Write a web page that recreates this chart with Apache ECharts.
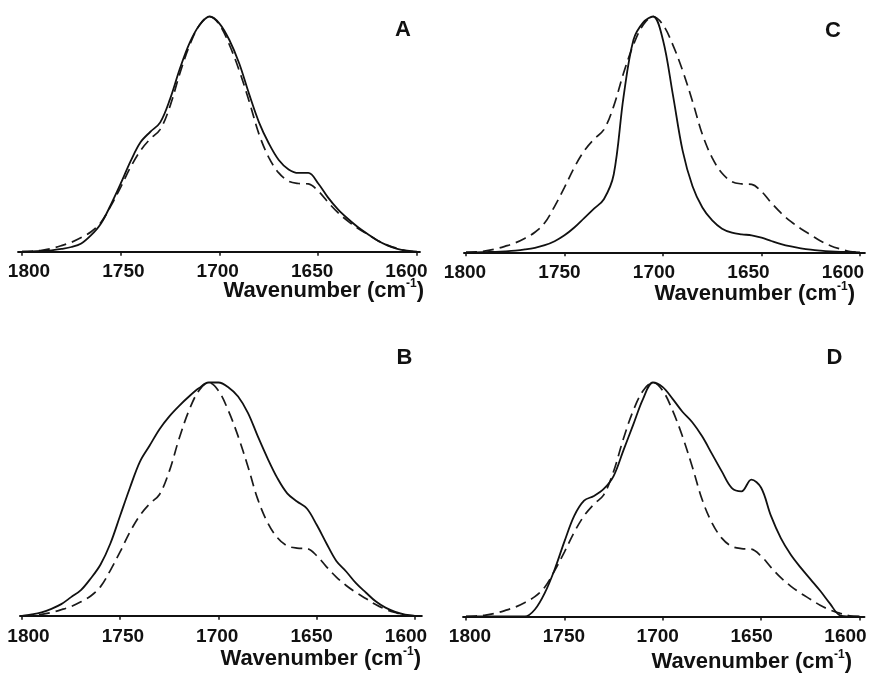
<!DOCTYPE html>
<html><head><meta charset="utf-8">
<script src="https://cdn.jsdelivr.net/npm/echarts@6/dist/echarts.min.js"></script>
<style>html,body{margin:0;padding:0;background:#fff}#c{width:870px;height:676px}</style>
</head><body><div id="c"></div>
<script>
// ---- data ----
const wavenumbers = [1800,1795,1790,1785,1780,1775,1770,1765,1760,1755,1750,1745,1740,1735,1730,1725,1720,1715,1710,1705,1700,1695,1690,1685,1680,1675,1670,1665,1660,1655,1650,1645,1640,1635,1630,1625,1620,1615,1610,1605,1600];
const reference = [0,0.002,0.006,0.014,0.026,0.04,0.06,0.085,0.125,0.195,0.275,0.36,0.43,0.48,0.52,0.62,0.76,0.88,0.965,1.0,0.965,0.88,0.77,0.64,0.5,0.4,0.335,0.3,0.29,0.288,0.258,0.21,0.166,0.13,0.1,0.074,0.048,0.028,0.014,0.003,0];
const solidA = [0,0.001,0.003,0.006,0.012,0.02,0.035,0.07,0.12,0.2,0.29,0.385,0.465,0.51,0.55,0.65,0.78,0.89,0.965,1.0,0.97,0.9,0.8,0.67,0.55,0.46,0.39,0.35,0.335,0.335,0.29,0.23,0.18,0.14,0.105,0.075,0.048,0.027,0.012,0.004,0];
const solidB = [0,0.006,0.015,0.03,0.05,0.08,0.11,0.16,0.22,0.31,0.43,0.55,0.66,0.73,0.8,0.855,0.9,0.94,0.975,1.0,1.0,0.98,0.94,0.87,0.77,0.675,0.59,0.525,0.49,0.46,0.39,0.31,0.235,0.19,0.14,0.1,0.062,0.035,0.017,0.005,0];
const solidC = [0,0,0.001,0.002,0.004,0.007,0.012,0.019,0.03,0.047,0.072,0.105,0.145,0.185,0.225,0.33,0.66,0.9,0.975,1.0,0.9,0.67,0.43,0.28,0.19,0.135,0.1,0.083,0.076,0.072,0.062,0.048,0.035,0.025,0.017,0.011,0.007,0.004,0.002,0.001,0];
const solidD = [0,0,0,0,0,0,0,0.03,0.1,0.2,0.32,0.43,0.495,0.515,0.545,0.6,0.71,0.82,0.93,1.0,0.98,0.93,0.875,0.83,0.77,0.695,0.62,0.55,0.535,0.585,0.55,0.43,0.335,0.265,0.21,0.16,0.11,0.055,0.005,0,0];
const tickValues = [1600,1650,1700,1750,1800];
const panelLetters = ['A','B','C','D'];
const axisTitleMain = 'Wavenumber (cm';
const axisTitleSup = '-1';

// ---- layout ----
// lab1800 / lab1600: pixel centres of the outermost tick labels
const panels = [
  {solid: solidA, left: 18.05, width: 401.9, top: 16.5, height: 235.2, min: 1598.5, max: 1802,
   lab1800: 29, lab1600: 406.5, letterX: 403, letterY: 29.5, titleRight: 424, titleY: 290.5},
  {solid: solidB, left: 20.0, width: 401.8, top: 382.5, height: 233.3, min: 1596.5, max: 1801,
   lab1800: 28.5, lab1600: 406, letterX: 404.5, letterY: 357.5, titleRight: 421, titleY: 659},
  {solid: solidC, left: 464.0, width: 400.9, top: 16.5, height: 235.8, min: 1597.5, max: 1801,
   lab1800: 465, lab1600: 843, letterX: 833, letterY: 30.5, titleRight: 855, titleY: 294},
  {solid: solidD, left: 463.05, width: 401.4, top: 382.5, height: 234.0, min: 1597.5, max: 1801.5,
   lab1800: 470, lab1600: 845.5, letterX: 834.5, letterY: 358, titleRight: 852, titleY: 662}
];
const FONT = '"Liberation Sans", Arial, Helvetica, sans-serif';

const grid = [], xAxis = [], yAxis = [], series = [], graphic = [];
panels.forEach((p, i) => {
  grid.push({left: p.left, top: p.top, width: p.width, height: p.height,
    containLabel: false, outerBoundsMode: 'none'});
  // main axis: line + ticks
  xAxis.push({
    type: 'value', gridIndex: i, inverse: true, min: p.min, max: p.max, position: 'bottom',
    axisLine: {show: true, onZero: false, lineStyle: {color: '#111', width: 2}},
    axisTick: {show: true, inside: false, length: 4, customValues: tickValues, lineStyle: {color: '#111', width: 1.5}},
    axisLabel: {show: false},
    splitLine: {show: false}
  });
  // label axis: same values, label layout as in the figure
  const s = (p.lab1600 - p.lab1800) / 200;
  const lmax = 1800 + (p.lab1800 - p.left) / s;
  const lmin = 1600 - (p.left + p.width - p.lab1600) / s;
  xAxis.push({
    type: 'value', gridIndex: i, inverse: true, min: lmin, max: lmax, position: 'bottom', offset: 0,
    axisLine: {show: false, onZero: false},
    axisTick: {show: false},
    axisLabel: {show: true, customValues: tickValues, margin: 11, color: '#111', hideOverlap: false,
      fontSize: 19, fontWeight: 'bold', fontFamily: FONT, formatter: v => String(v)},
    splitLine: {show: false}
  });
  yAxis.push({type: 'value', gridIndex: i, min: 0, max: 1, show: false, splitLine: {show: false}});
  series.push({
    type: 'line', xAxisIndex: 2 * i, yAxisIndex: i, showSymbol: false, smooth: 0.35, clip: false,
    data: wavenumbers.map((w, k) => [w, reference[k]]),
    lineStyle: {color: '#1a1a1a', width: 1.7, type: [11, 6]}, silent: true, z: 2
  });
  series.push({
    type: 'line', xAxisIndex: 2 * i, yAxisIndex: i, showSymbol: false, smooth: 0.35, clip: false,
    data: wavenumbers.map((w, k) => [w, p.solid[k]]),
    lineStyle: {color: '#111', width: 1.8, type: 'solid'}, silent: true, z: 3
  });
  graphic.push({
    type: 'text', x: p.letterX, y: p.letterY,
    style: {text: panelLetters[i], fill: '#111', fontSize: 22, fontWeight: 'bold', fontFamily: FONT,
      align: 'center', verticalAlign: 'middle'}
  });
  graphic.push({
    type: 'text', x: p.titleRight, y: p.titleY,
    style: {
      text: '{m|' + axisTitleMain + '}{s|' + axisTitleSup + '}{m|)}',
      align: 'right', verticalAlign: 'middle', fill: '#111',
      rich: {
        m: {fontSize: 22, fontWeight: 'bold', fontFamily: FONT, lineHeight: 26, fill: '#111'},
        s: {fontSize: 12, fontWeight: 'bold', fontFamily: FONT, lineHeight: 18, verticalAlign: 'top', fill: '#111'}
      }
    }
  });
});

const chart = echarts.init(document.getElementById('c'), null, {renderer: 'canvas'});
chart.setOption({
  animation: false,
  backgroundColor: '#fff',
  grid, xAxis, yAxis, series, graphic
});
</script></body></html>
